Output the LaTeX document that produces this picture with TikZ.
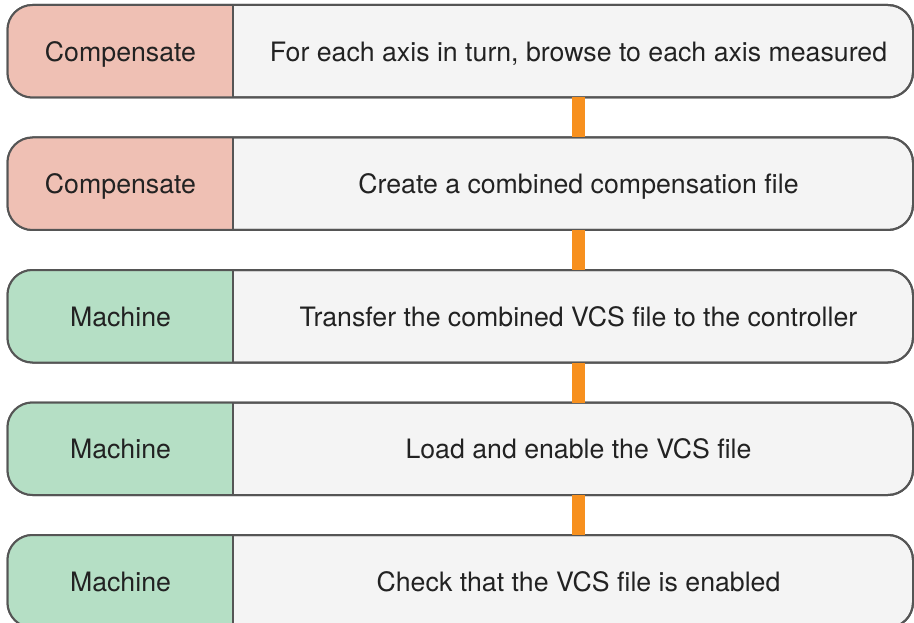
\documentclass[tikz,border=0pt]{standalone}
\usepackage{fontspec}
\setmainfont{TeX Gyre Heros}
\definecolor{compfill}{HTML}{EFC0B4}
\definecolor{machfill}{HTML}{B5DFC5}
\definecolor{stepfill}{HTML}{F4F4F4}
\definecolor{edgegray}{HTML}{555555}
\definecolor{textgray}{HTML}{222222}
\definecolor{linkorange}{HTML}{F7901E}
\begin{document}
\begin{tikzpicture}[x = 1pt, y = -1pt,
        rowbox/.style = {draw = edgegray, line width = 2pt, rounded corners = 25pt,
            fill = stepfill, minimum width = 905.5pt, minimum height = 92.5pt,
            inner sep = 0pt, outer sep = 0pt},
        rowline/.style = {draw = edgegray, line width = 2pt},
        label/.style = {text = textgray, anchor = base, inner sep = 0pt,
            font = \fontsize{26.7}{30}\selectfont},
        link/.style = {draw = linkorange, line width = 13pt}
    ]
    \useasboundingbox (0, 0) rectangle (914, 623);
    \coordinate (div) at (232.7, 0);

    \foreach \y/\kind/\col/\task [count = \i] in {
            51.25/Compensate/compfill/{For each axis in turn, browse to each axis measured},
            183.75/Compensate/compfill/{Create a combined compensation file},
            316.25/Machine/machfill/{Transfer the combined VCS file to the controller},
            448.75/Machine/machfill/{Load and enable the VCS file},
            581.25/Machine/machfill/{Check that the VCS file is enabled}} {
        \node [rowbox] (row\i) at (460.25, \y) {};
        \begin{scope}
            \clip [rounded corners = 25pt] (row\i.north west) rectangle (row\i.south east);
            \fill [\col] (row\i.north west) rectangle (row\i.south -| div);
        \end{scope}
        \draw [rowline, rounded corners = 25pt] (row\i.north west) rectangle (row\i.south east);
        \draw [rowline] (row\i.north -| div) -- (row\i.south -| div);
        \node [label] (kind\i) at (120.5, \y + 10) {\kind};
        \node [label] (task\i) at (578.5, \y + 10) {\task};
    }

    \foreach \a/\b in {1/2, 2/3, 3/4, 4/5}
        \draw [link] (row\a.south -| task\a) -- (row\b.north -| task\b);
\end{tikzpicture}
\end{document}
